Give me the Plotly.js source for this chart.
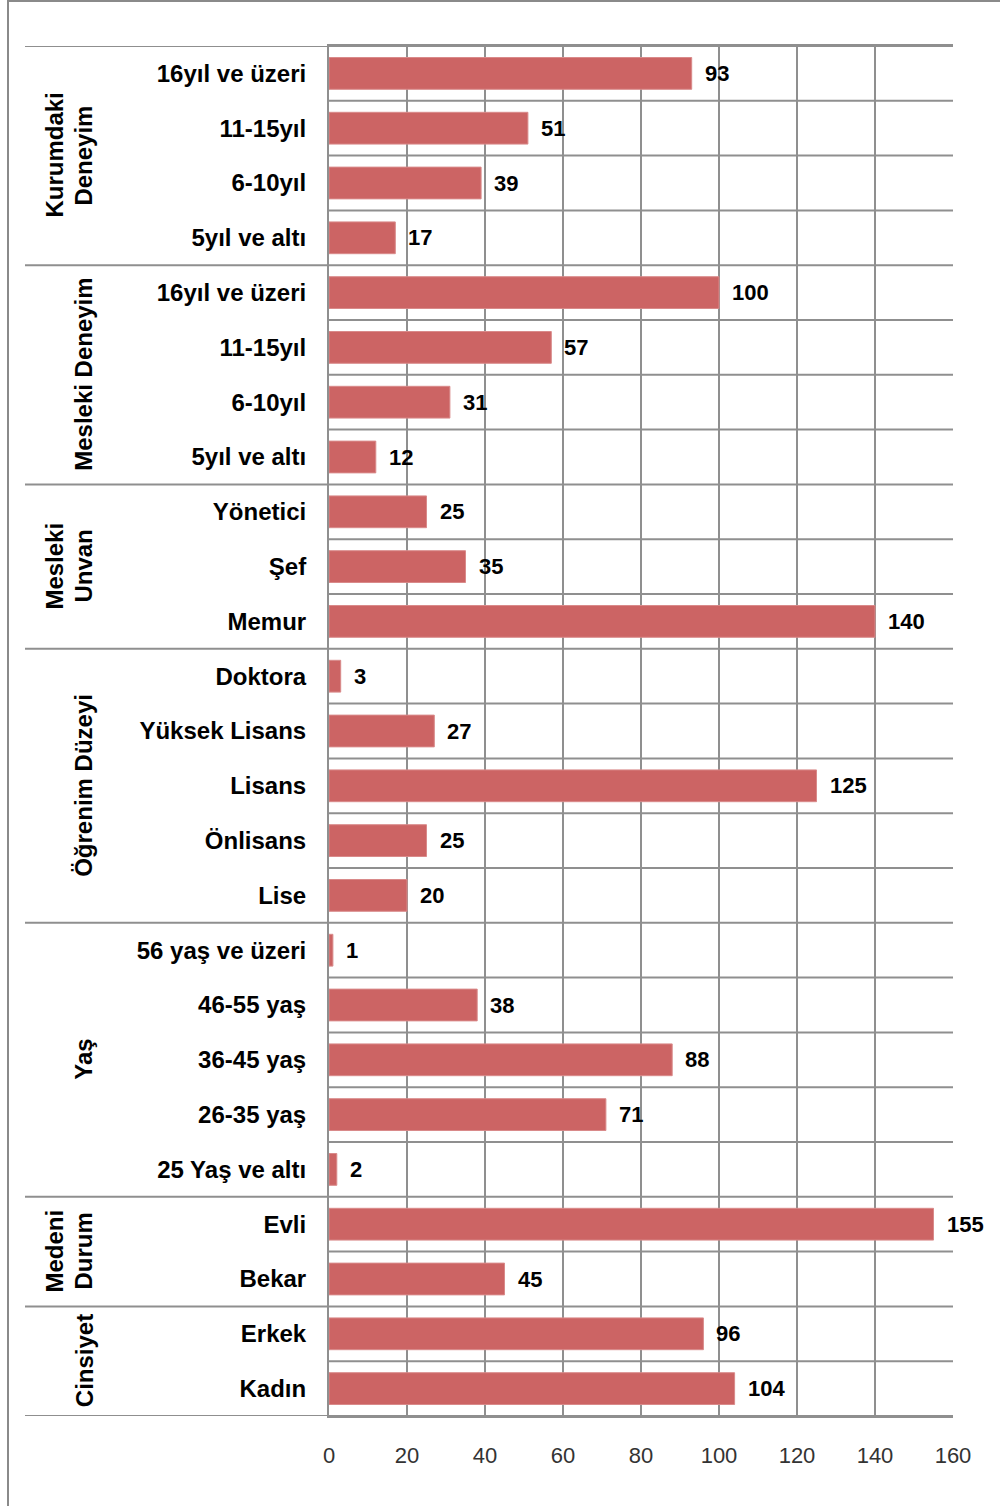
<!DOCTYPE html>
<html>
<head>
<meta charset="utf-8">
<script src="https://cdn.plot.ly/plotly-3.0.1.min.js"></script>
<style>
  html, body { margin: 0; padding: 0; background: #fff; }
  #chart { width: 1000px; height: 1506px; }
</style>
</head>
<body>
<div id="chart"></div>
<script>
// Groups, top to bottom
const groupNames = [
  ['Kurumdaki', 'Deneyim'],
  ['Mesleki Deneyim'],
  ['Mesleki', 'Unvan'],
  ['Öğrenim Düzeyi'],
  ['Yaş'],
  ['Medeni', 'Durum'],
  ['Cinsiyet']
];

const kurumLabels = ['16yıl ve üzeri', '11-15yıl', '6-10yıl', '5yıl ve altı'];
const kurumValues = [93, 51, 39, 17];

const meslekLabels = ['16yıl ve üzeri', '11-15yıl', '6-10yıl', '5yıl ve altı'];
const meslekValues = [100, 57, 31, 12];

const unvanLabels = ['Yönetici', 'Şef', 'Memur'];
const unvanValues = [25, 35, 140];

const ogrenimLabels = ['Doktora', 'Yüksek Lisans', 'Lisans', 'Önlisans', 'Lise'];
const ogrenimValues = [3, 27, 125, 25, 20];

const yasLabels = ['56 yaş ve üzeri', '46-55 yaş', '36-45 yaş', '26-35 yaş', '25 Yaş ve altı'];
const yasValues = [1, 38, 88, 71, 2];

const medeniLabels = ['Evli', 'Bekar'];
const medeniValues = [155, 45];

const cinsiyetLabels = ['Erkek', 'Kadın'];
const cinsiyetValues = [96, 104];

const xTicks = [0, 20, 40, 60, 80, 100, 120, 140, 160];

const groupLabels = [kurumLabels, meslekLabels, unvanLabels, ogrenimLabels, yasLabels, medeniLabels, cinsiyetLabels];
const groupValues = [kurumValues, meslekValues, unvanValues, ogrenimValues, yasValues, medeniValues, cinsiyetValues];

// Flatten into rows; row index is the y position (top row = 0)
const labels = [], values = [], rows = [];
const groupStart = [];
groupLabels.forEach((g, gi) => {
  groupStart.push(labels.length);
  g.forEach((lab, j) => {
    rows.push(labels.length);
    labels.push(lab);
    values.push(groupValues[gi][j]);
  });
});
const nRows = labels.length;

// Plot area geometry (pixels)
const W = 1000, H = 1506;
const M = { l: 329, r: 47, t: 46, b: 90 };
const pw = W - M.l - M.r, ph = H - M.t - M.b;
const px = p => (p - M.l) / pw;       // pixel x -> paper x
const py = p => (H - M.b - p) / ph;   // pixel y -> paper y

const gridColor = '#8f8f8f';
const font = 'Liberation Sans, Arial, sans-serif';

const shapes = [];
// Row boundary lines across the plot area; group boundaries extend into the label area
for (let i = 0; i <= nRows; i++) {
  const isGroupEdge = i === 0 || i === nRows || groupStart.includes(i);
  shapes.push({
    type: 'line', xref: 'paper', yref: 'y',
    x0: isGroupEdge ? px(25) : 0, x1: 1,
    y0: i - 0.5, y1: i - 0.5,
    line: { color: gridColor, width: 2 }, layer: 'below'
  });
}
// Outer frame (top and left edges)
shapes.push({ type: 'line', xref: 'paper', yref: 'paper', x0: px(8), x1: px(1002), y0: py(1), y1: py(1), line: { color: '#8a8a8a', width: 2 } });
shapes.push({ type: 'line', xref: 'paper', yref: 'paper', x0: px(8), x1: px(8), y0: py(0), y1: py(1510), line: { color: '#8a8a8a', width: 2 } });

const annotations = [];
// Value labels beside each bar
values.forEach((v, i) => {
  annotations.push({
    x: v, y: rows[i], xref: 'x', yref: 'y',
    text: String(v), showarrow: false, xanchor: 'left', xshift: 11,
    font: { family: font, size: 22, color: '#000', weight: 'bold' }
  });
});
// Rotated group names
groupNames.forEach((lines, gi) => {
  const first = groupStart[gi];
  const last = first + groupLabels[gi].length - 1;
  const mid = (first + last) / 2;
  lines.forEach((ln, k) => {
    const cx = 84 - (lines.length - 1 - k) * 29;
    annotations.push({
      x: px(cx), y: mid, xref: 'paper', yref: 'y',
      text: ln, showarrow: false, textangle: -90,
      xanchor: 'center', yanchor: 'middle',
      font: { family: font, size: 24, color: '#000', weight: 'bold' }
    });
  });
});

const trace = {
  type: 'bar', orientation: 'h',
  x: values, y: rows, width: 0.58,
  marker: { color: '#CC6464', line: { color: '#D98A8A', width: 1 } },
  hoverinfo: 'skip'
};

const layout = {
  width: W, height: H,
  margin: M,
  paper_bgcolor: '#fff', plot_bgcolor: '#fff',
  showlegend: false,
  xaxis: {
    range: [0, 160], tickvals: xTicks, ticktext: xTicks.map(String),
    showgrid: true, gridcolor: gridColor, gridwidth: 2,
    zeroline: false, showline: true, linecolor: gridColor, linewidth: 2, mirror: true,
    ticks: '', ticklabelstandoff: 19,
    tickfont: { family: font, size: 22, color: '#333' }
  },
  yaxis: {
    range: [nRows - 0.5, -0.5], tickvals: rows, ticktext: labels,
    showgrid: false, zeroline: false, showline: true, linecolor: gridColor, linewidth: 2,
    ticks: '', ticklabelstandoff: 16,
    tickfont: { family: font, size: 24, color: '#000', weight: 'bold' }
  },
  shapes: shapes,
  annotations: annotations
};

Plotly.newPlot('chart', [trace], layout, { staticPlot: true });
</script>
</body>
</html>
